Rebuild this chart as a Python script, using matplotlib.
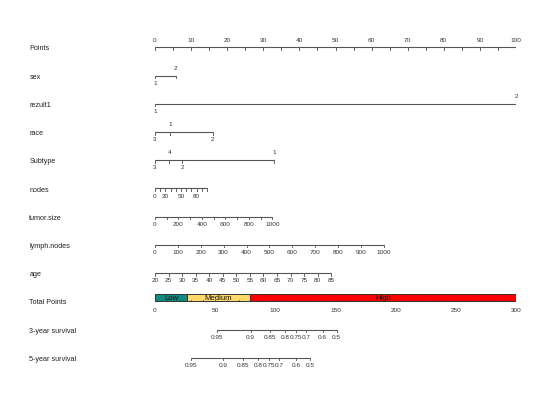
import matplotlib
matplotlib.use("Agg")
import matplotlib.pyplot as plt
from matplotlib.transforms import blended_transform_factory

plt.rcParams['font.family'] = ['Liberation Sans', 'DejaVu Sans']

row_names = ["Points", "sex", "rezult1", "race", "Subtype", "nodes", "tumor.size",
             "lymph.nodes", "age", "Total Points", "3-year survival", "5-year survival"]

# categorical variables: (label, points, above?)
sex_lv = ["1", "2"]; sex_pts = [0, 5.7]; sex_up = [False, True]
rez_lv = ["1", "2"]; rez_pts = [0, 100]; rez_up = [False, True]
race_lv = ["3", "1", "2"]; race_pts = [0, 4.2, 16.0]; race_up = [False, True, False]
sub_lv = ["3", "4", "2", "1"]; sub_pts = [0, 4.0, 7.6, 33.0]; sub_up = [False, True, False, True]

# continuous variables
nodes_ticks = [0, 10, 20, 30, 40, 50, 60, 70, 80, 90, 100]
nodes_labels = [0, 20, 50, 80]
nodes_max_pts = 14.4
tumor_ticks = list(range(0, 1001, 100))
tumor_labels = list(range(0, 1001, 200))
tumor_max_pts = 32.5
lymph_ticks = list(range(0, 1001, 100))
lymph_labels = lymph_ticks
lymph_max_pts = 63.4
age_ticks = list(range(20, 86, 5))
age_labels = age_ticks
age_max_pts = 48.8

total_ticks = list(range(0, 301, 50))
total_max = 300
risk_names = ["Low", "Medium", "High"]
risk_bounds = [0, 26.6, 79.2, 300]
risk_colors = ["#0E8C7F", "#FFD86B", "#FF0000"]

surv3_vals = [0.95, 0.9, 0.85, 0.8, 0.75, 0.7, 0.6, 0.5]
surv3_tp = [51.7, 79.5, 95.8, 108.0, 117.4, 125.7, 139.4, 151.0]
surv5_vals = [0.95, 0.9, 0.85, 0.8, 0.75, 0.7, 0.6, 0.5]
surv5_tp = [29.7, 56.8, 73.4, 85.8, 95.0, 103.3, 117.0, 129.1]

W, H = 554, 415
fig = plt.figure(figsize=(W / 100, H / 100), dpi=100)
x0, x1 = 155 / W, 516 / W
ax = fig.add_axes([x0, 0, x1 - x0, 1])
ax.set_xlim(0, 100)
top_px, step = 47.5, 28.2
ax.set_ylim(-(H - top_px) / step, top_px / step)
ax.axis("off")

LC = "#555555"
TC = "#333333"
lw = 0.8
pxy = 1 / step          # one pixel in data y
tick_len = 2.5 * pxy
off = 7.5 * pxy
fs_tick = 4.6
fs_row = 5.2

trans = blended_transform_factory(fig.transFigure, ax.transData)
for i, name in enumerate(row_names):
    ax.text(29.3 / W, -i - 1.5 * pxy, name, transform=trans, ha="left", va="center",
            fontsize=fs_row, color="#222222")


def axis_line(y, xs, labels, ups=None, label_below=True):
    ax.plot([min(xs), max(xs)], [y, y], color=LC, lw=lw, solid_capstyle="butt")
    for k, x in enumerate(xs):
        ax.plot([x, x], [y, y - tick_len], color=LC, lw=lw * 0.8)
    if labels is None:
        return
    for k, (x, lab) in enumerate(labels):
        if ups is not None:
            up = ups[k]
        else:
            up = not label_below
        yy = y + off if up else y - off
        ax.text(x, yy, lab, ha="center", va="center", fontsize=fs_tick, color=TC)


# Points
pts_ticks = list(range(0, 101, 5))
axis_line(0, pts_ticks, [(v, str(v)) for v in range(0, 101, 10)], label_below=False)

# categorical
for row, (lv, pts, ups) in zip([1, 2, 3, 4], [(sex_lv, sex_pts, sex_up), (rez_lv, rez_pts, rez_up),
                                               (race_lv, race_pts, race_up), (sub_lv, sub_pts, sub_up)]):
    axis_line(-row, pts, list(zip(pts, lv)), ups=ups)


def cont(row, ticks, labels, vmin, vmax, maxpts):
    f = lambda v: (v - vmin) / (vmax - vmin) * maxpts
    axis_line(-row, [f(t) for t in ticks], [(f(v), str(v)) for v in labels])


cont(5, nodes_ticks, nodes_labels, 0, 100, nodes_max_pts)
cont(6, tumor_ticks, tumor_labels, 0, 1000, tumor_max_pts)
cont(7, lymph_ticks, lymph_labels, 0, 1000, lymph_max_pts)
cont(8, age_ticks, age_labels, 20, 85, age_max_pts)

# Total points bar
yb = -9
bar_h = 7 * pxy
sc = 100 / total_max
for name, a, b, c in zip(risk_names, risk_bounds[:-1], risk_bounds[1:], risk_colors):
    ax.add_patch(plt.Rectangle((a * sc, yb), (b - a) * sc, bar_h, facecolor=c,
                               edgecolor="#333333", lw=0.7))
    ax.text((a + b) / 2 * sc, yb + bar_h / 2 - 0.5 * pxy, name, ha="center", va="center",
            fontsize=5.6, color="#111111")
for t in range(0, 301, 10):
    ax.plot([t * sc, t * sc], [yb, yb + 1.8 * pxy], color="#333333", lw=0.5)
for t in total_ticks:
    ax.text(t * sc, yb - 9 * pxy, str(t), ha="center", va="center", fontsize=fs_tick, color=TC)

# survival
for row, vals, tps in [(10, surv3_vals, surv3_tp), (11, surv5_vals, surv5_tp)]:
    xs = [t * sc for t in tps]
    axis_line(-row, xs, [(x, ("%g" % v)) for x, v in zip(xs, vals)])

fig.savefig("out.png", dpi=100)
